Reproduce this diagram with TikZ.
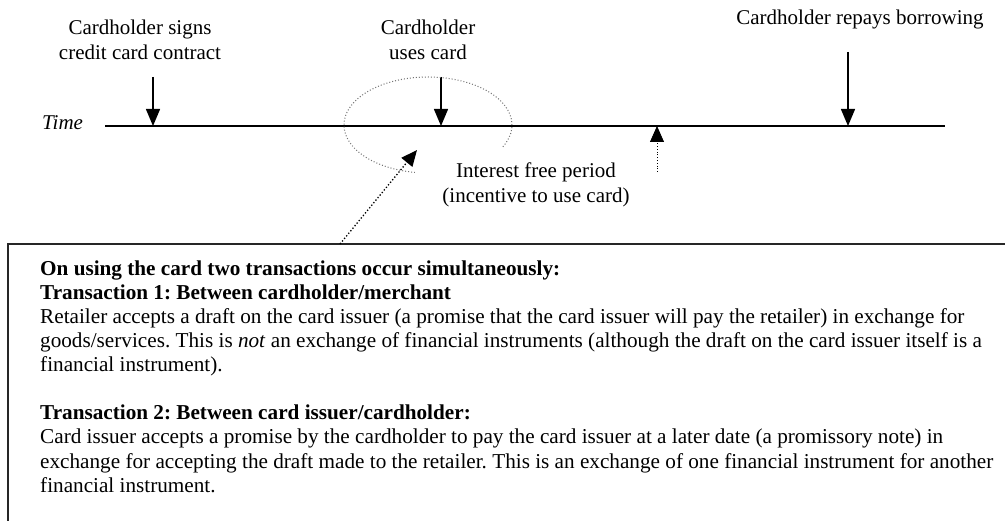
\documentclass[tikz,border=0pt]{standalone}
\usepackage{fontspec}
\setmainfont{Liberation Serif}
\usetikzlibrary{arrows.meta,calc}
\begin{document}
\frenchspacing
\begin{tikzpicture}[x=1pt,y=1pt,
  lbl/.style={font=\fontsize{21}{25}\selectfont, align=center, inner sep=0pt},
  boxtext/.style={font=\fontsize{21.2}{24.1}\selectfont, align=left, inner sep=0pt},
  solidarrow/.style={line width=1.4pt, -{Triangle[length=17pt,width=14pt]}},
  dotarrow/.style={line width=1.3pt, dotted, -{Triangle[length=16pt,width=14pt]}},
  timeline/.style={line width=1.8pt},
  framebox/.style={line width=1.6pt, draw=black!85},
  ellipsering/.style={line width=1pt, dotted, draw=black!55}]
\useasboundingbox (0,0) rectangle (1005,-521);
\clip (0,0) rectangle (1005,-521);
\fill[white] (0,0) rectangle (1005,-521);

% timeline
\coordinate (tl0) at (105,-126);
\coordinate (tl1) at (945,-126);
\draw[timeline] (tl0) -- (tl1);
\node[lbl, font=\fontsize{21}{25}\selectfont\itshape, anchor=base west] (time) at (42,-130) {Time};

% labels
\node[lbl, anchor=north] (sign) at (140,-16.5) {\strut Cardholder signs\\credit card contract};
\node[lbl, anchor=north] (use) at (428,-16.5) {\strut Cardholder\\uses card};
\node[lbl, anchor=base] (repay) at (860,-25) {Cardholder repays borrowing};
\node[lbl, anchor=north] (ifp) at (536,-159.5) {\strut Interest free period\\(incentive to use card)};

% arrows to the timeline
\coordinate (a1s) at (153,-77);  \coordinate (a1e) at (153,-126);
\coordinate (a2s) at (441,-77);  \coordinate (a2e) at (441,-126);
\coordinate (a3s) at (848,-52);  \coordinate (a3e) at (848,-126);
\draw[solidarrow] (a1s) -- (a1e);
\draw[solidarrow] (a2s) -- (a2e);
\draw[solidarrow] (a3s) -- (a3e);

% interest-free up arrow
\coordinate (ups) at (657,-172); \coordinate (upe) at (657,-126);
\draw[line width=0.8pt, dotted, -{Triangle[length=16pt,width=14pt]}] (ups) -- (upe);

% dotted ellipse round the card use
\coordinate (ec) at (428,-125);
\draw[ellipsering] ($(ec)+(-27:84 and 48)$) arc[start angle=-27, end angle=261, x radius=84, y radius=48];

% box
\draw[framebox] (8,-540) -- (8,-244) -- (1020,-244);
\coordinate (bs) at (340,-244);
\coordinate (be) at (417,-150);
\draw[dotarrow] (bs) -- (be);

\node[boxtext, anchor=north west] (txt) at (40,-258.13) {\strut\textbf{On using the card two transactions occur simultaneously:}\\
\textbf{Transaction 1: Between cardholder/merchant}\\
Retailer accepts a draft on the card issuer (a promise that the card issuer will pay the retailer) in exchange for\\
goods/services. This is \textit{not} an exchange of financial instruments (although the draft on the card issuer itself is a\\
financial instrument).\\[24.1pt]
\textbf{Transaction 2: Between card issuer/cardholder:}\\
Card issuer accepts a promise by the cardholder to pay the card issuer at a later date (a promissory note) in\\
exchange for accepting the draft made to the retailer. This is an exchange of one financial instrument for another\\
financial instrument.};
\end{tikzpicture}
\end{document}
